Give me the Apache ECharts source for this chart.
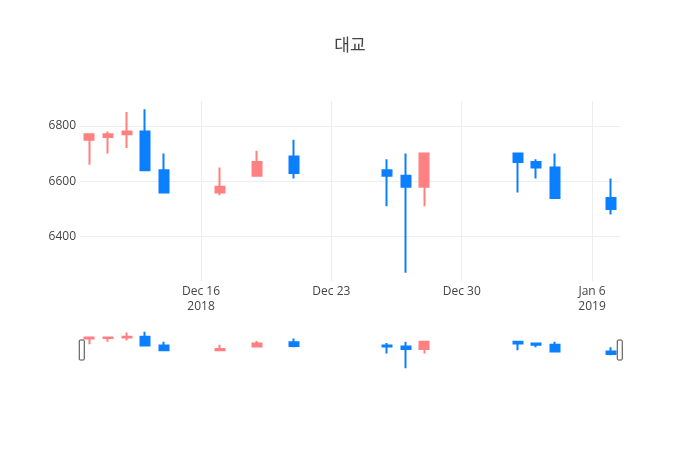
<!DOCTYPE html>
<html>
<head>
<meta charset="utf-8">
<title>대교</title>
<script src="https://cdn.jsdelivr.net/npm/echarts@6/dist/echarts.min.js"></script>
<style>
	html, body { margin: 0; padding: 0; background: #fff; }
	#chart { width: 700px; height: 450px; }
</style>
</head>
<body>
<div id="chart"></div>
<script>
// daily prices
var dates = ['2018-12-10','2018-12-11','2018-12-12','2018-12-13','2018-12-14',
	'2018-12-17','2018-12-19','2018-12-21','2018-12-26','2018-12-27',
	'2018-12-28','2019-01-02','2019-01-03','2019-01-04','2019-01-07'];
var opens  = [6750, 6760, 6770, 6780, 6640, 6560, 6620, 6690, 6640, 6620, 6580, 6700, 6670, 6650, 6540];
var closes = [6770, 6770, 6780, 6640, 6560, 6580, 6670, 6630, 6620, 6580, 6700, 6670, 6650, 6540, 6500];
var lows   = [6660, 6700, 6720, 6640, 6560, 6550, 6620, 6610, 6510, 6270, 6510, 6560, 6610, 6540, 6480];
var highs  = [6770, 6780, 6850, 6860, 6700, 6650, 6710, 6750, 6680, 6700, 6700, 6700, 6680, 6700, 6610];

// axis
var tickDates = ['2018-12-16','2018-12-23','2018-12-30','2019-01-06'];
var yTicks = [6400, 6600, 6800];
var xStart = '2018-12-09T12';
var xEnd = '2019-01-07T12';
var yMin = 6240, yMax = 6890;

var UP = '#ff8080', DOWN = '#0a7fff';
var MONTHS = ['Jan','Feb','Mar','Apr','May','Jun','Jul','Aug','Sep','Oct','Nov','Dec'];

function toTime(s){
	var p = s.split('T');
	var d = p[0].split('-');
	var h = p[1] ? parseInt(p[1], 10) : 0;
	return Date.UTC(+d[0], +d[1] - 1, +d[2], h);
}

var rows = [];
for(var i=0;i<dates.length;i++){
	rows.push([toTime(dates[i]), opens[i], closes[i], lows[i], highs[i]]);
}
var tickValues = tickDates.map(toTime);

function xLabel(val){
	var d = new Date(val);
	var s = MONTHS[d.getUTCMonth()] + ' ' + d.getUTCDate();
	var k = tickValues.indexOf(val);
	if(k === 0 || (k > 0 && new Date(tickValues[k-1]).getUTCFullYear() !== d.getUTCFullYear())){
		s += '\n' + d.getUTCFullYear();
	}
	return s;
}

var chart = echarts.init(document.getElementById('chart'));
var candleStyle = {
	color: UP, color0: DOWN,
	borderColor: UP, borderColor0: DOWN,
	borderWidth: 2
};

var option = {
	animation: false,
	backgroundColor: '#fff',
	textStyle: { fontFamily: '"Open Sans", "Noto Sans CJK KR", sans-serif', color: '#444' },
	title: {
		text: '대교',
		left: 'center',
		top: 33,
		textStyle: { fontSize: 17, fontWeight: 'normal', color: '#444',
			fontFamily: '"Open Sans", "Noto Sans CJK KR", sans-serif' }
	},
	grid: [
		{ left: 80, right: 80, top: 101, height: 180 },
		{ left: 80, right: 80, top: 330, height: 40 }
	],
	xAxis: [
		{
			type: 'value', gridIndex: 0,
			min: toTime(xStart), max: toTime(xEnd),
			axisLine: { show: false },
			axisTick: { show: false, customValues: tickValues },
			splitLine: { show: true, lineStyle: { color: '#eee', width: 1 } },
			axisLabel: {
				customValues: tickValues,
				formatter: xLabel,
				color: '#444', fontSize: 12, margin: 3, lineHeight: 15,
				hideOverlap: false
			}
		},
		{
			type: 'value', gridIndex: 1,
			min: toTime(xStart), max: toTime(xEnd),
			axisLine: { show: false },
			axisTick: { show: false },
			splitLine: { show: false },
			axisLabel: { show: false }
		}
	],
	yAxis: [
		{
			type: 'value', gridIndex: 0,
			min: yMin, max: yMax,
			axisLine: { show: false },
			axisTick: { show: false, customValues: yTicks },
			splitLine: { show: true, lineStyle: { color: '#eee', width: 1 } },
			axisLabel: {
				customValues: yTicks, color: '#444', fontSize: 12, margin: 4,
				formatter: function(v){ return String(v); }
			}
		},
		{
			type: 'value', gridIndex: 1,
			min: yMin, max: yMax,
			axisLine: { show: false },
			axisTick: { show: false },
			splitLine: { show: false },
			axisLabel: { show: false }
		}
	],
	dataZoom: [{
		type: 'slider',
		xAxisIndex: [0],
		filterMode: 'none',
		start: 0, end: 100,
		left: 80, right: 80, top: 330, height: 40,
		showDataShadow: false,
		showDetail: false,
		brushSelect: false,
		moveHandleSize: 0,
		backgroundColor: 'rgba(0,0,0,0)',
		fillerColor: 'rgba(0,0,0,0)',
		borderColor: 'rgba(0,0,0,0)',
		handleIcon: 'path://M1,0 h3 a1,1 0 0 1 1,1 v18 a1,1 0 0 1 -1,1 h-3 a1,1 0 0 1 -1,-1 v-18 a1,1 0 0 1 1,-1 Z',
		handleSize: 20,
		handleStyle: { color: '#fff', borderColor: '#444', borderWidth: 1 },
		emphasis: { handleStyle: { color: '#fff', borderColor: '#444', borderWidth: 1 } }
	}],
	series: [
		{
			type: 'candlestick',
			xAxisIndex: 0, yAxisIndex: 0,
			data: rows,
			encode: { x: 0, y: [1, 2, 3, 4] },
			barWidth: 9.5,
			itemStyle: candleStyle
		},
		{
			type: 'candlestick',
			xAxisIndex: 1, yAxisIndex: 1,
			data: rows,
			encode: { x: 0, y: [1, 2, 3, 4] },
			barWidth: 9.5,
			itemStyle: candleStyle,
			silent: true
		}
	]
};

chart.setOption(option);
</script>
</body>
</html>
